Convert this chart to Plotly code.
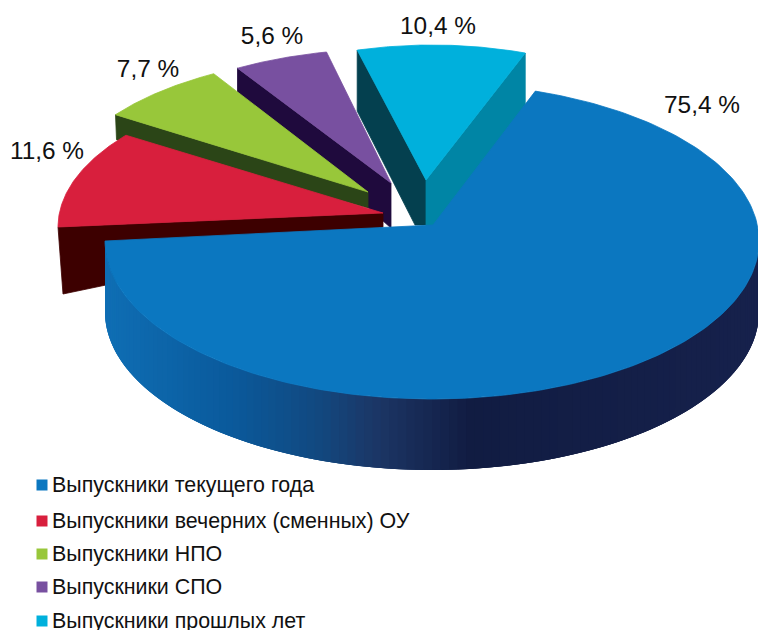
import math
import plotly.graph_objects as go

# ---- data ----
categories = ["Выпускники текущего года", "Выпускники вечерних (сменных) ОУ",
              "Выпускники НПО", "Выпускники СПО", "Выпускники прошлых лет"]
values = [75.4, 11.6, 7.7, 5.6, 10.4]

# ---- style ----
top_colors = ["#0b77c0", "#d81f3d", "#98c73a", "#7850a0", "#00b0dc"]
wall_colors = [None, "#3d0000", "#2b4517", "#1f0a3d", "#04404f"]
right_wall_color = "#0085a5"
legend_y = [486, 522, 555, 588, 622]
label_pos = [(702, 107), (47, 153), (148, 71), (272, 38), (438, 28)]

# per-slice projection: apex, ellipse centre, radii, start angle, sweep stretch,
# wall depth at rim and at apex, wall lean at rim
geom = [
    dict(apex=(433, 225), c=(432, 241), r=(327, 158), start=180, k=1.026, d=(71, 0), lean=0),
    dict(apex=(383, 213), c=(383, 227), r=(325, 150), start=180, k=1.0, d=(67, 14), lean=5),
    dict(apex=(368, 192), c=(367, 195), r=(307, 140), start=145, k=1.0, d=(25, 16), lean=1),
    dict(apex=(391, 183), c=(388, 192), r=(301, 143), start=120, k=1.0, d=(24, 45), lean=0),
    dict(apex=(426, 180), c=(432, 195), r=(289, 150), start=105, k=1.0, d=(61, 45), lean=0),
]
side_stops = [(100, (15, 111, 181)), (230, (10, 90, 156)), (320, (18, 72, 127)),
              (380, (28, 53, 100)), (470, (17, 28, 66)), (760, (22, 33, 76))]

total = sum(values)
fig = go.Figure()


def pt(g, a):
    return (g["c"][0] + g["r"][0] * math.cos(math.radians(a)),
            g["c"][1] - g["r"][1] * math.sin(math.radians(a)))


def arc(g, a0, a1, n=80):
    return [pt(g, a0 + (a1 - a0) * i / n) for i in range(n + 1)]


def poly(points, color, name=None, width=0.8):
    fig.add_trace(go.Scatter(
        x=[p[0] for p in points] + [points[0][0]],
        y=[p[1] for p in points] + [points[0][1]],
        mode="lines", fill="toself", fillcolor=color,
        line=dict(color=color, width=width),
        hoverinfo="text" if name else "skip", text=name,
        showlegend=False))


def side_color(x):
    for (x0, c0), (x1, c1) in zip(side_stops, side_stops[1:]):
        if x <= x1:
            t = max(0, (x - x0) / (x1 - x0))
            return "rgb(%d,%d,%d)" % tuple(round(a + (b - a) * t) for a, b in zip(c0, c1))
    return "rgb(%d,%d,%d)" % side_stops[-1][1]


# exploded slices, back to front
for i in [4, 3, 2, 1]:
    g = geom[i]
    sweep = values[i] / total * 360 * g["k"]
    a0, a1 = g["start"], g["start"] - sweep
    rim = arc(g, a0, a1)
    ax, ay = g["apex"]
    drim, dapex = g["d"]
    L = rim[0]
    notch = -11 if i == 4 else 0
    poly([L, (L[0] + g["lean"], L[1] + drim), (ax + notch, ay + dapex), (ax, ay + dapex), (ax, ay)], wall_colors[i])
    if i == 4:
        R = rim[-1]
        poly([(ax, ay), R, (R[0], R[1] + 75), (ax, ay + 55)], right_wall_color)
    poly([(ax, ay)] + rim, top_colors[i], categories[i])

# main slice: outer wall as overlapping shaded strips, then the top
g = geom[0]
depth = g["d"][0]
sweep0 = values[0] / total * 360 * g["k"]
n_strips = 120
for j in range(n_strips):
    t0 = 180 + 180 * j / n_strips
    t1 = min(360, t0 + 3 * 180 / n_strips)
    a = arc(g, t0, t1, 6)
    strip = a + [(p[0], p[1] + depth) for p in reversed(a)]
    x_mid = pt(g, t0 + 90 / n_strips)[0]
    poly(strip, side_color(x_mid), width=0)
poly([g["apex"]] + arc(g, 180, 180 + sweep0, 200), top_colors[0], categories[0])

# percentage labels
fig.add_trace(go.Scatter(
    x=[p[0] for p in label_pos], y=[p[1] for p in label_pos],
    mode="text", text=[f"{v:.1f}".replace(".", ",") + " %" for v in values],
    textfont=dict(family="Liberation Sans", size=24.4, color="#111111"),
    hoverinfo="skip", showlegend=False))

# legend
for name, col, y in zip(categories, top_colors, legend_y):
    fig.add_trace(go.Scatter(
        x=[42], y=[y - 1], mode="markers",
        marker=dict(symbol="square", size=11, color=col),
        hoverinfo="skip", showlegend=False))
    fig.add_trace(go.Scatter(
        x=[52], y=[y + 0.5], mode="text",
        text=[name], textposition="middle right",
        textfont=dict(family="Liberation Sans", size=21.4, color="#111111"),
        hoverinfo="skip", showlegend=False))

fig.update_layout(
    width=758, height=630, margin=dict(l=0, r=0, t=0, b=0),
    paper_bgcolor="white", plot_bgcolor="white", showlegend=False,
    xaxis=dict(range=[0, 758], visible=False, fixedrange=True),
    yaxis=dict(range=[630, 0], visible=False, fixedrange=True),
)
fig.write_html("out.html", config={"displayModeBar": False},
               post_script="document.body.style.margin='0';document.body.style.overflow='hidden';")
